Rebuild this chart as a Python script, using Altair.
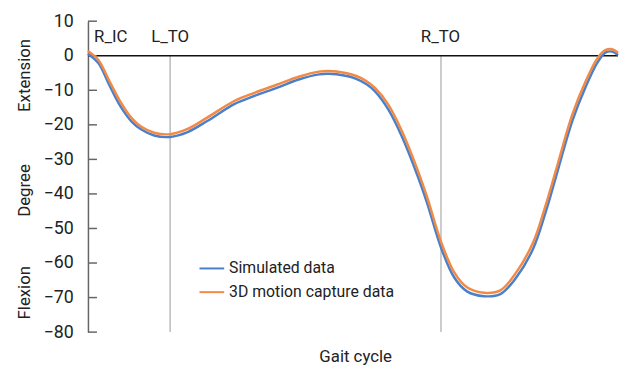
import altair as alt
import pandas as pd

# Gait cycle (%) and knee angle (degree)
cycle_pts = [0, 2, 4, 6, 8.2, 10, 12.5, 15.5, 18.8, 22.5, 27.6, 31.3, 35.6, 39.9, 43.6, 45.4, 48.6,
             50.5, 52.5, 54.2, 56.6, 59.2, 62.2, 64, 66.6, 69.1, 71.5, 74.7, 77.8, 80.8, 84.0, 86.4, 88.3,
             91.4, 93.9, 96.1, 97.6, 98.9, 100]
motion_capture = [1.4, -1.3, -7.2, -13, -18, -20.5, -22.3, -22.7, -21.2, -17.9, -13.1, -10.8, -8.4, -6.0,
                  -4.6, -4.4, -5.0, -5.8, -7.3, -9.4, -14, -21.7, -33.1, -41, -53.8, -62.7, -67, -68.6,
                  -67.9, -62.7, -54, -43, -33.1, -16.9, -7.4, -0.8, 1.6, 1.9, 0.9]
simulated = [0.6, -2.2, -8.4, -14.3, -19, -21.3, -23.1, -23.5, -22.1, -18.9, -14, -11.7, -9.3, -6.8,
             -5.4, -5.2, -5.8, -6.6, -8.2, -10.4, -15.4, -23.3, -34.8, -42.7, -55.5, -64.2, -68.2, -69.6,
             -69.0, -64.2, -55.8, -45, -35, -18.8, -9.0, -2.0, 0.9, 1.2, 0.2]

series_names = ["Simulated data", "3D motion capture data"]
series_colors = ["#4a7fca", "#f28a45"]

event_labels = ["R_IC", "L_TO", "R_TO"]
event_label_x = [4.3, 15.5, 66.5]
event_line_x = [15.5, 66.6]

y_ticks = [10, 0, -10, -20, -30, -40, -50, -60, -70, -80]
side_titles = ["Extension", "Degree", "Flexion"]
side_title_y = [-5.7, -39, -68.6]

FONT = "Roboto"

df = pd.concat([
    pd.DataFrame({"cycle": cycle_pts, "angle": simulated, "series": series_names[0]}),
    pd.DataFrame({"cycle": cycle_pts, "angle": motion_capture, "series": series_names[1]}),
], ignore_index=True)

xs = alt.Scale(domain=[0, 100], nice=False, zero=False)
ys = alt.Scale(domain=[-80, 10], nice=False, zero=False)
yaxis = alt.Axis(tickCount=10, title=None, tickSize=0, labelPadding=15, domainColor="#666666",
                 domainWidth=1.5, labelFont=FONT, labelFontSize=18, labelColor="#222222",
                 grid=False, labelFlush=False, labelOverlap=False)

lines = alt.Chart(df).mark_line(strokeWidth=2.5, interpolate="catmull-rom").encode(
    x=alt.X("cycle:Q", scale=xs, axis=None),
    y=alt.Y("angle:Q", scale=ys, axis=yaxis),
    color=alt.Color("series:N", scale=alt.Scale(domain=series_names, range=series_colors),
                    legend=alt.Legend(title=None, orient="none", legendX=112, legendY=237,
                                      symbolType="stroke", symbolStrokeWidth=2, symbolSize=625,
                                      labelFont=FONT, labelFontSize=16, labelColor="#222222",
                                      labelLimit=0, rowPadding=2, labelOffset=4)),
)

zero_df = pd.DataFrame({"y": [0], "x0": [0], "x1": [100]})
zero_line = alt.Chart(zero_df).mark_rule(color="#111111", strokeWidth=1.5).encode(
    y=alt.Y("y:Q", scale=ys, axis=yaxis),
    x=alt.X("x0:Q", scale=xs, axis=None), x2="x1:Q")

ev_df = pd.DataFrame({"x": event_line_x, "top": [0] * len(event_line_x), "bot": [-80] * len(event_line_x)})
ev_lines = alt.Chart(ev_df).mark_rule(color="#bbbbbb", strokeWidth=1.5).encode(
    x=alt.X("x:Q", scale=xs, axis=None), y=alt.Y("top:Q", scale=ys, axis=yaxis), y2="bot:Q")

lab_df = pd.DataFrame({"x": event_label_x, "label": event_labels, "y": [5.4] * 3})
ev_labels = alt.Chart(lab_df).mark_text(font=FONT, fontSize=17, color="#222222", baseline="middle").encode(
    x=alt.X("x:Q", scale=xs, axis=None), y=alt.Y("y:Q", scale=ys, axis=yaxis), text="label:N")

tick_df = pd.DataFrame({"v": y_ticks, "x0": [0] * len(y_ticks), "x1": [1.7] * len(y_ticks)})
ticks = alt.Chart(tick_df).mark_rule(color="#666666", strokeWidth=1.5).encode(
    y=alt.Y("v:Q", scale=ys, axis=yaxis),
    x=alt.X("x0:Q", scale=xs, axis=None), x2="x1:Q")

side_df = pd.DataFrame({"t": side_titles, "y": side_title_y})
side = alt.Chart(side_df).mark_text(font=FONT, fontSize=17, color="#222222", angle=270,
                                    baseline="middle", align="center").encode(
    y=alt.Y("y:Q", scale=ys, axis=yaxis), x=alt.value(-64), text="t:N")

xtitle_df = pd.DataFrame({"t": ["Gait cycle"], "x": [50.5]})
xtitle = alt.Chart(xtitle_df).mark_text(font=FONT, fontSize=17, color="#222222", baseline="middle").encode(
    x=alt.X("x:Q", scale=xs, axis=None), y=alt.value(340), text="t:N")

chart = alt.layer(ev_lines, zero_line, ticks, lines, ev_labels, side, xtitle).properties(
    width=537, height=315,
    background="white",
    autosize=alt.AutoSizeParams(type="none"),
    padding={"left": 81, "top": 11, "right": 2, "bottom": 35},
).configure_view(stroke=None)

chart.save("out.html", embed_options={"renderer": "svg", "actions": False})
